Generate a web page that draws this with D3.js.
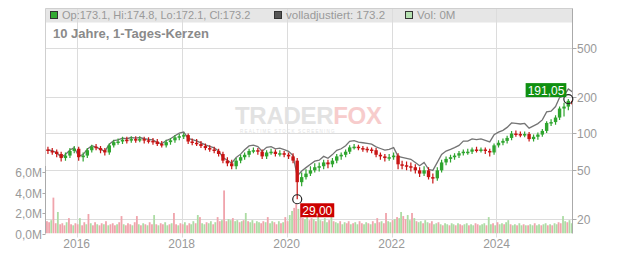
<!DOCTYPE html>
<html><head><meta charset="utf-8">
<script src="https://cdn.jsdelivr.net/npm/d3@7/dist/d3.min.js"></script>
<style>
html,body{margin:0;padding:0;background:#fff;}
svg{display:block;font-family:"Liberation Sans",Arial,sans-serif;}
</style></head><body>
<svg id="c" width="632" height="253"></svg>
<script>
// ---- data (monthly candles, Jun 2015 .. Jun 2025) ----
const startMonth = [2015, 5];
const openP  = [74,72,71,68,63,66,72,75,64,66,73,78,76,73,70,80,85,86,89,88,90,89,90,88,87,86,82,80,85,88,93,95,97,86,84,82,79,76,74,72,68,60,57,54,60,64,67,72,73,71,65,70,71,68,69,67,65,60,40,44,47,50,53,54,58,56,60,65,67,71,77,78,76,75,74,73,67,65,63,64,66,56,55,54,53,50,47,50,44,43,50,58,62,64,66,69,71,71,74,73,74,72,70,80,84,87,92,100,99,98,99,90,94,98,105,122,124,135,160,166,185];
const highP  = [78,76,74,71,70,76,79,78,70,76,81,82,79,76,83,89,91,94,94,95,95,95,94,93,92,90,87,89,92,97,99,101,100,91,90,87,83,80,78,75,71,64,61,63,67,70,75,77,76,74,73,75,74,73,72,70,69,63,48,51,54,57,58,61,61,63,68,70,74,80,82,81,79,78,77,76,70,68,68,70,69,60,59,58,56,53,54,53,47,53,61,65,67,69,72,74,75,77,78,77,77,75,83,88,91,96,105,106,104,104,103,98,102,109,126,131,141,166,178,191.05,190];
const lowP   = [68,67,64,59,60,63,69,60,59,63,70,73,69,66,67,77,81,82,83,84,84,85,83,83,81,79,77,77,81,84,88,90,82,80,79,76,73,71,69,65,57,54,51,51,57,61,64,69,67,62,62,67,65,65,64,62,57,29,37,42,45,48,49,51,52,53,57,61,64,68,74,73,71,70,69,64,61,59,60,61,51,51,50,49,47,44,45,42,39,41,48,55,58,61,63,66,67,68,70,70,68,65,67,77,80,83,88,94,93,93,86,86,89,94,101,115,118,129,138,155,165];
const closeP = [72,71,68,63,66,72,75,64,66,73,78,76,73,70,80,85,86,89,88,90,89,90,88,87,86,82,80,85,88,93,95,97,86,84,82,79,76,74,72,68,60,57,54,60,64,67,72,73,71,65,70,71,68,69,67,65,60,40,44,47,50,53,54,58,56,60,65,67,71,77,78,76,75,74,73,67,65,63,64,66,56,55,54,53,50,47,50,44,43,50,58,62,64,66,69,71,71,74,73,74,72,70,80,84,87,92,100,99,98,99,90,94,98,105,122,124,135,160,166,185,173.2];
const adjP   = [73.4,72.4,69.4,64.3,67.3,73.4,76.5,65.3,67.3,74.5,79.6,77.5,74.5,71.4,81.6,87.6,88.6,91.7,90.6,92.7,91.7,92.7,90.6,89.6,88.6,84.5,82.4,87.6,90.6,95.8,100.7,102.8,91.2,89.0,86.9,83.7,80.6,78.4,76.3,72.1,63.6,60.4,57.2,63.6,67.8,73.7,79.2,80.3,78.1,71.5,77.0,78.1,74.8,75.9,73.7,71.5,66.0,44.8,49.3,52.6,56.0,59.4,60.5,65.0,62.7,67.2,72.8,75.0,79.5,86.2,87.4,85.1,84.0,82.9,81.8,77.7,75.4,73.1,74.2,76.6,65.0,63.8,62.6,61.5,58.0,54.5,58.0,51.0,49.9,58.0,67.3,71.9,74.2,76.6,80.0,86.6,86.6,90.3,89.1,90.3,87.8,85.4,97.6,102.5,106.1,112.2,122.0,120.8,119.6,120.8,110.7,115.6,120.5,129.2,150.1,152.5,166.1,196.8,204.2,231,218];
// half-monthly volume in millions
const volume = [1.2,1.1,1.3,3.5,1.0,2.1,0.9,1.0,0.8,1.1, 1.5,0.9,0.8,1.0,0.9,1.5,0.8,1.1,0.9,1.9, 1.0,0.8,1.1,0.9,0.8,1.0,0.9,1.2,0.8,0.9, 1.0,0.8,0.9,1.1,1.7,0.9,0.8,1.0,0.9,0.8, 1.1,1.7,0.9,0.8,1.0,0.9,0.8,1.1,0.9,1.8, 0.9,0.8,1.0,0.9,1.1,0.8,0.9,1.0,2.0,0.9, 0.8,1.0,0.9,1.1,0.8,1.0,0.9,1.2,1.0,1.8, 1.6,1.0,0.9,1.1,1.0,1.2,0.9,1.1,1.6,1.2, 1.3,4.2,1.2,1.4,1.3,1.5,1.2,1.3,1.1,1.2, 1.3,2.0,1.2,1.1,1.3,1.0,1.2,1.1,1.0,1.2, 1.1,1.6,1.0,1.2,1.1,0.9,1.2,1.0,1.1,1.6, 1.2,1.8,2.2,2.5,2.9,2.4,1.6,1.5,1.4,1.6, 1.3,1.5,1.4,1.2,1.6,1.3,1.2,1.5,1.1,1.3, 1.6,1.2,1.1,1.0,1.2,0.9,1.1,1.0,1.2,0.9, 1.0,1.1,0.9,1.2,1.0,0.9,1.1,1.0,0.9,1.2, 1.0,1.5,1.1,1.2,1.0,2.0,1.2,1.1,1.3,1.4, 1.6,1.5,2.1,1.7,1.4,1.8,1.3,2.0,1.5,1.2, 1.1,1.2,1.0,1.3,1.1,1.0,1.2,0.9,1.0,1.1, 0.9,0.8,1.0,0.9,0.8,1.0,0.9,0.8,1.0,0.9, 0.8,0.9,1.0,0.8,0.9,0.8,1.0,0.9,0.8,0.9, 1.0,0.8,1.6,0.9,1.0,0.8,1.1,0.9,1.0,0.9, 1.1,1.3,0.9,0.8,0.9,0.8,1.0,0.8,0.9,0.8, 0.8,0.9,0.8,1.0,0.8,0.9,0.8,0.9,1.0,0.8, 0.9,0.8,1.0,0.9,1.1,1.0,1.7,1.2,1.1,1.3, 1.0,1.2];
const volDir = ["dduddudddu","ddudduddud","udduddudud","dduddudddu","ddudududdu","dudduududd","uddudduudu","duuduududd","udduuduudu","duduuduudd","uduuddudud","duuddudduu","dduduuduud","uduuduuddu","duudduudud","uddudduudu","duudduudud","uuduudduud","uduuduudud","duuduudduu","uduududuud","uuduuduudu","duuduuduud","uduudduudu","ud"].join("");
const priceTicks = [20, 50, 100, 200, 500];
const volTicks = [0, 2, 4, 6];
const volTickLabels = ["0,0M", "2,0M", "4,0M", "6,0M"];
const yearTicks = [2016, 2018, 2020, 2022, 2024];
const legendTexts = ["Op:173.1, Hi:174.8, Lo:172.1, Cl:173.2", "volladjustiert: 173.2", "Vol: 0M"];
const title = "10 Jahre, 1-Tages-Kerzen";
const minInfo = {idx: 57, value: 29, label: "29,00"};
const maxInfo = {idx: 119, value: 191.05, label: "191,05"};

// ---- layout ----
const L = 45.5, R = 572.5, T = 8.5, B = 233.5;
const svg = d3.select("#c");
const x = d3.scaleTime().domain([new Date(2015,4,29), new Date(2025,5,13)]).range([L, R]);
const y = d3.scaleLog().domain([20, 500]).range([219, 48]);
const yv = d3.scaleLinear().domain([0, 6]).range([B, 172]);
const mDate = i => new Date(startMonth[0], startMonth[1] + i, 15);
const hDate = j => new Date(startMonth[0], startMonth[1] + Math.floor(j/2), j % 2 ? 23 : 8);

const defs = svg.append("defs");
defs.append("clipPath").attr("id","plot").append("rect").attr("x",L).attr("y",T).attr("width",R-L).attr("height",B-T);

// legend band
svg.append("rect").attr("x",L).attr("y",T).attr("width",R-L).attr("height",14).attr("fill","#e6e6e6");

// grid
const grid = svg.append("g").attr("stroke","#dcdcdc").attr("stroke-width",1);
priceTicks.forEach(v => grid.append("line").attr("x1",L).attr("x2",R).attr("y1",Math.round(y(v))+0.5).attr("y2",Math.round(y(v))+0.5));
yearTicks.forEach(yr => { const xx = Math.round(x(new Date(yr,0,1)))+0.5; grid.append("line").attr("x1",xx).attr("x2",xx).attr("y1",T).attr("y2",B+4); });
// frame
svg.append("line").attr("x1",L).attr("x2",R).attr("y1",T).attr("y2",T).attr("stroke","#cfcfcf");
svg.append("line").attr("x1",L).attr("x2",L).attr("y1",T).attr("y2",B).attr("stroke","#cfcfcf");

// watermark
const wt = svg.append("text").attr("x",235).attr("y",124).attr("font-weight","bold").attr("font-size",24).attr("letter-spacing",-0.3);
wt.append("tspan").attr("fill","#e2e2e2").text("TRADER");
wt.append("tspan").attr("fill","#f7cccc").text("FOX");
svg.append("text").attr("x",240).attr("y",133).attr("font-size",4.5).attr("fill","#e2e2e2").attr("letter-spacing",1.2).text("REALTIME STOCK SCREENING");

const plot = svg.append("g").attr("clip-path","url(#plot)");

// volume
plot.append("g").selectAll("rect").data(volume).join("rect")
  .attr("x", (d,j) => x(hDate(j)) - 0.9)
  .attr("width", 1.8)
  .attr("y", d => yv(d))
  .attr("height", d => B - yv(d))
  .attr("fill", (d,j) => volDir[j] === "u" ? "#acdca4" : "#f0a4ac");

// adjusted line
plot.append("path").datum(adjP)
  .attr("fill","none").attr("stroke","#747474").attr("stroke-width",1.3)
  .attr("d", d3.line().x((d,i) => x(mDate(i))).y(d => y(d)));

// candles
const cg = plot.append("g");
closeP.forEach((c,i) => {
  const o = openP[i], col = c >= o ? "#2fa52f" : "#c81414";
  const xx = x(mDate(i));
  cg.append("line").attr("x1",xx).attr("x2",xx).attr("y1",y(highP[i])).attr("y2",y(lowP[i])).attr("stroke",col).attr("stroke-width",1.2);
  const top = y(Math.max(o,c)), bot = y(Math.min(o,c));
  cg.append("rect").attr("x",xx-1.7).attr("width",3.4).attr("y",top).attr("height",Math.max(1.5,bot-top)).attr("fill",col);
});

// right axis
svg.append("line").attr("x1",R).attr("x2",R).attr("y1",T).attr("y2",B).attr("stroke","#aaa");
const ra = svg.append("g").attr("font-size",12).attr("fill","#999");
priceTicks.forEach(v => {
  const yy = Math.round(y(v))+0.5;
  svg.append("line").attr("x1",R).attr("x2",R+4).attr("y1",yy).attr("y2",yy).attr("stroke","#aaa");
  ra.append("text").attr("x",577).attr("y",yy+4.5).text(v);
});
// left volume axis
svg.append("line").attr("x1",L).attr("x2",L).attr("y1",yv(6)-6).attr("y2",B).attr("stroke","#aaa");
const la = svg.append("g").attr("font-size",12).attr("fill","#999").attr("text-anchor","end");
volTicks.forEach((v,k) => {
  const yy = Math.round(yv(v))+0.5;
  svg.append("line").attr("x1",L-3).attr("x2",L).attr("y1",yy).attr("y2",yy).attr("stroke","#aaa");
  la.append("text").attr("x",42).attr("y",yy+4.5).text(volTickLabels[k]);
});
// bottom axis labels
const ba = svg.append("g").attr("font-size",12).attr("fill","#999").attr("text-anchor","middle");
yearTicks.forEach(yr => ba.append("text").attr("x",x(new Date(yr,0,1))).attr("y",248).text(yr));

// legend
const lg = svg.append("g").attr("fill","#999");
const legendX = [50, 274, 405], legendFill = ["#33aa33", "#555555", "#b4e0b0"], legendSize = [11, 11.5, 11.5];
legendTexts.forEach((t,k) => {
  svg.append("rect").attr("x",legendX[k]+0.5).attr("y",11.5).attr("width",7).attr("height",7).attr("fill",legendFill[k]).attr("stroke","#333").attr("stroke-width",1);
  lg.append("text").attr("x",legendX[k]+12).attr("y",19).attr("font-size",legendSize[k]).text(t);
});
svg.append("text").attr("x",53).attr("y",38).attr("font-size",13).attr("font-weight","bold").attr("fill","#8a8a8a").text(title);

// min / max markers
const mkr = (info, col, dx, dy, anchor) => {
  const cx = x(mDate(info.idx)), cy = y(info.value);
  svg.append("circle").attr("cx",cx).attr("cy",cy).attr("r",4.5).attr("fill","none").attr("stroke","#222").attr("stroke-width",1.2);
  const g = svg.append("g");
  const tx = g.append("text").attr("font-size",12).attr("fill","#fff").text(info.label);
  const w = tx.node().getComputedTextLength() + 4;
  const bx = anchor === "end" ? cx + dx - w : cx + dx;
  g.insert("rect","text").attr("x",bx).attr("y",cy+dy).attr("width",w).attr("height",14).attr("fill",col);
  tx.attr("x",bx+2).attr("y",cy+dy+11.5);
};
mkr(minInfo, "#cc0000", 3, 4, "start");
mkr(maxInfo, "#109010", -2, -16, "end");
</script>
</body></html>
